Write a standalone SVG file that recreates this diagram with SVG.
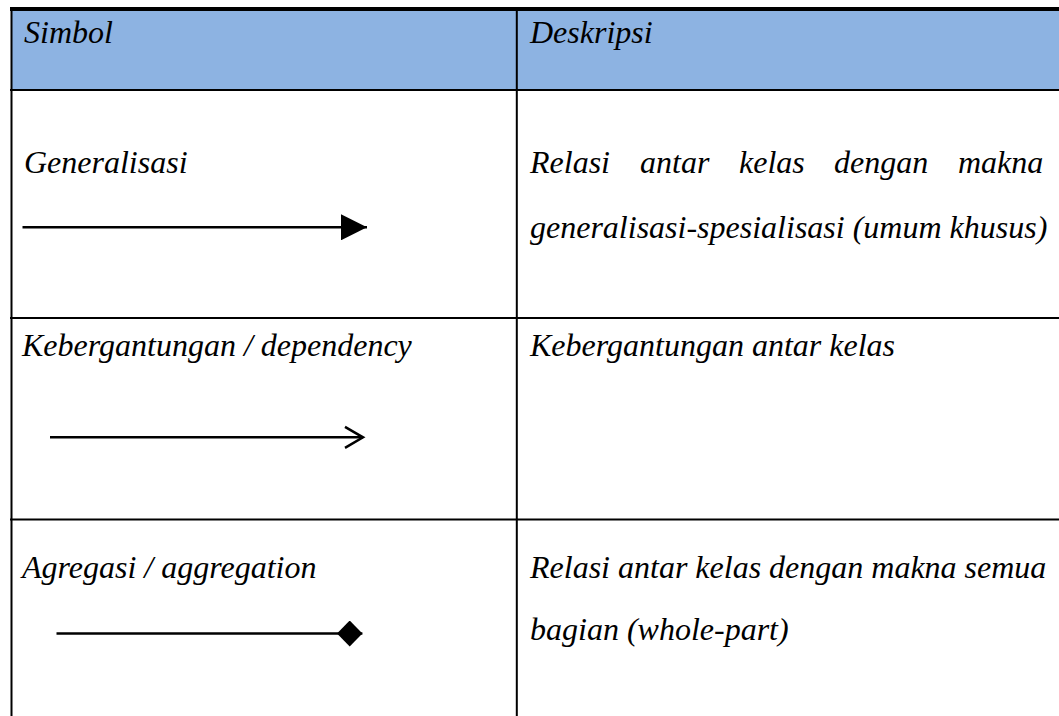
<svg xmlns="http://www.w3.org/2000/svg" width="1059" height="716" viewBox="0 0 1059 716">
  <style>
    .txt { font-family: "Liberation Serif", "Times New Roman", serif; font-style: italic; font-size: 32px; fill: #000; }
    .rule { fill: #000; }
    .conn { stroke: #000; stroke-width: 2.5; fill: none; }
  </style>
  <defs>
    <marker id="triangleHead" markerUnits="userSpaceOnUse" viewBox="0 0 26 26" markerWidth="26" markerHeight="26" refX="26" refY="13" orient="auto">
      <path d="M0,0 L26,13 L0,26 Z" fill="#000"/>
    </marker>
    <marker id="openHead" markerUnits="userSpaceOnUse" viewBox="-2 -2 23 25" markerWidth="23" markerHeight="25" refX="18" refY="10.5" orient="auto">
      <path d="M0,0 L18,10.5 L0,21" fill="none" stroke="#000" stroke-width="2.5"/>
    </marker>
    <marker id="diamondHead" markerUnits="userSpaceOnUse" viewBox="0 0 26 26" markerWidth="26" markerHeight="26" refX="25.4" refY="13" orient="auto">
      <path d="M0,13 L12.7,0 L25.4,13 L12.7,26 Z" fill="#000"/>
    </marker>
  </defs>

  <!-- table frame -->
  <g id="table-grid">
    <rect x="11" y="11" width="1048" height="78" fill="#8DB3E2"/>
    <rect class="rule" x="10" y="7" width="1049" height="4"/>
    <rect class="rule" x="10" y="89" width="1049" height="2"/>
    <rect class="rule" x="10" y="317" width="1049" height="2"/>
    <rect class="rule" x="10" y="518.5" width="1049" height="2"/>
    <rect class="rule" x="10.5" y="7" width="2" height="709"/>
    <rect class="rule" x="515.8" y="7" width="2" height="709"/>
  </g>

  <!-- header row -->
  <g id="header">
    <text class="txt" x="24" y="43">Simbol</text>
    <text class="txt" x="530" y="43">Deskripsi</text>
  </g>

  <!-- generalisation row -->
  <g id="row-generalisasi">
    <text class="txt" x="24" y="173">Generalisasi</text>
    <text class="txt" y="173"><tspan x="530">Relasi</tspan><tspan x="640">antar</tspan><tspan x="739">kelas</tspan><tspan x="834">dengan</tspan><tspan x="958">makna</tspan></text>
    <text class="txt" x="530" y="238">generalisasi-spesialisasi (umum khusus)</text>
  </g>

  <!-- dependency row -->
  <g id="row-dependency">
    <text class="txt" x="22" y="356">Kebergantungan / dependency</text>
    <text class="txt" x="530" y="356">Kebergantungan antar kelas</text>
  </g>

  <!-- aggregation row -->
  <g id="row-aggregation">
    <text class="txt" x="22" y="578">Agregasi / aggregation</text>
    <text class="txt" x="530" y="578">Relasi antar kelas dengan makna semua</text>
    <text class="txt" x="530" y="640">bagian (whole-part)</text>
  </g>

  <!-- relationship symbols -->
  <g id="connectors">
    <line class="conn" x1="22.5" y1="227.3" x2="367" y2="227.3" marker-end="url(#triangleHead)"/>
    <line class="conn" x1="50" y1="437.3" x2="363" y2="437.3" marker-end="url(#openHead)"/>
    <line class="conn" x1="56.5" y1="633.5" x2="362.4" y2="633.5" marker-end="url(#diamondHead)"/>
  </g>
</svg>
